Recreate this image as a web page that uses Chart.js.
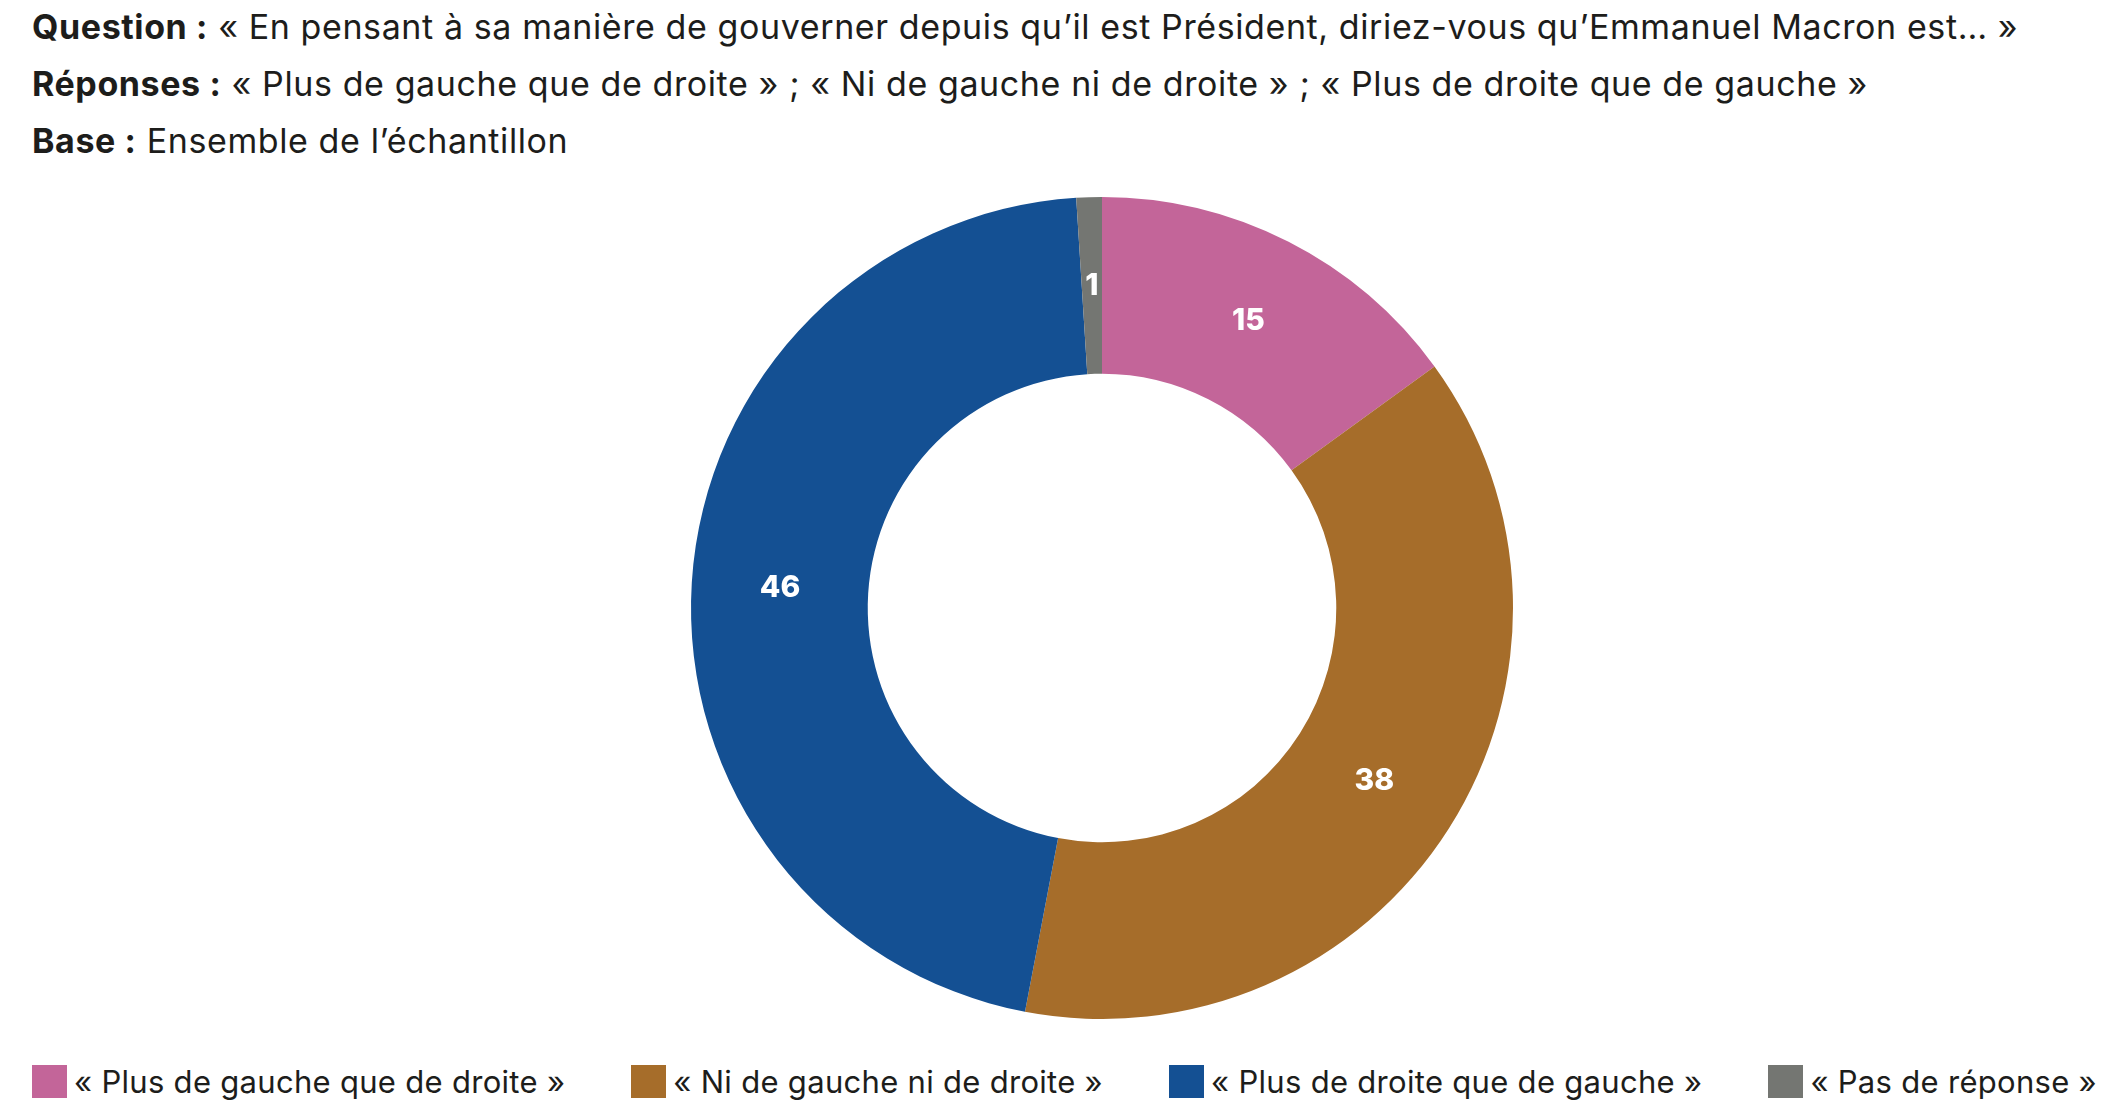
<!DOCTYPE html>
<html lang="fr">
<head>
<meta charset="utf-8">
<title>Macron - gauche / droite</title>
<script src="https://cdn.jsdelivr.net/npm/chart.js@4.4.1/dist/chart.umd.min.js"></script>
<style>
    html, body {
        margin: 0;
        padding: 0;
        width: 2118px;
        height: 1118px;
        overflow: hidden;
        background: #ffffff;
        font-family: Inter, "Open Sans", sans-serif;
        color: #1d1d1b;
    }
    .header {
        position: absolute;
        left: 32px;
        top: -2px;
        font-size: 34px;
        letter-spacing: 0.6px;
        line-height: 57px;
        white-space: nowrap;
    }
    .header b {
        font-weight: 700;
    }
    .chart-box {
        position: absolute;
        left: 0;
        top: 197px;
        width: 2118px;
        height: 822px;
    }
    .legend {
        position: absolute;
        left: 32px;
        width: 2065px;
        top: 1064px;
        height: 34px;
        display: flex;
        justify-content: space-between;
        align-items: center;
        font-size: 31px;
        letter-spacing: 0.3px;
        white-space: nowrap;
    }
    .legend .item {
        display: flex;
        align-items: center;
    }
    .legend .swatch {
        width: 35px;
        height: 33px;
        margin-right: 7px;
    }
</style>
</head>
<body>
<div class="header">
    <div><b>Question :</b> « En pensant à sa manière de gouverner depuis qu’il est Président, diriez-vous qu’Emmanuel Macron est… »</div>
    <div><b>Réponses :</b> « Plus de gauche que de droite » ; « Ni de gauche ni de droite » ; « Plus de droite que de gauche »</div>
    <div><b>Base :</b> Ensemble de l’échantillon</div>
</div>
<div class="chart-box">
    <canvas id="donutChart"></canvas>
</div>
<div class="legend" id="legend"></div>
<script>
const categories = [
    '« Plus de gauche que de droite »',
    '« Ni de gauche ni de droite »',
    '« Plus de droite que de gauche »',
    '« Pas de réponse »'
];
const values = [15, 38, 46, 1];
const colors = ['#c36599', '#a66d2a', '#145093', '#747672'];

// white numbers in the middle of each slice
const sliceLabels = {
    id: 'sliceLabels',
    afterDatasetsDraw(chart) {
        const ctx = chart.ctx;
        const meta = chart.getDatasetMeta(0);
        ctx.save();
        ctx.fillStyle = '#ffffff';
        ctx.font = '800 30px Inter, "Open Sans", sans-serif';
        ctx.textAlign = 'center';
        ctx.textBaseline = 'middle';
        meta.data.forEach((arc, i) => {
            const pos = arc.tooltipPosition();
            ctx.fillText(String(chart.data.datasets[0].data[i]), pos.x, pos.y);
        });
        ctx.restore();
    }
};

const donutChart = new Chart(document.getElementById('donutChart'), {
    type: 'doughnut',
    data: {
        labels: categories,
        datasets: [{
            data: values,
            backgroundColor: colors,
            borderWidth: 0
        }]
    },
    options: {
        responsive: true,
        maintainAspectRatio: false,
        animation: false,
        cutout: '57%',
        layout: { padding: { left: 86 } },
        plugins: {
            legend: { display: false },
            tooltip: { enabled: false }
        }
    },
    plugins: [sliceLabels]
});

// legend row, built from the chart's own labels and colours
const legendBox = document.getElementById('legend');
donutChart.data.labels.forEach((label, i) => {
    const item = document.createElement('div');
    item.className = 'item';
    const swatch = document.createElement('span');
    swatch.className = 'swatch';
    swatch.style.background = donutChart.data.datasets[0].backgroundColor[i];
    const text = document.createElement('span');
    text.textContent = label;
    item.appendChild(swatch);
    item.appendChild(text);
    legendBox.appendChild(item);
});
</script>
</body>
</html>
